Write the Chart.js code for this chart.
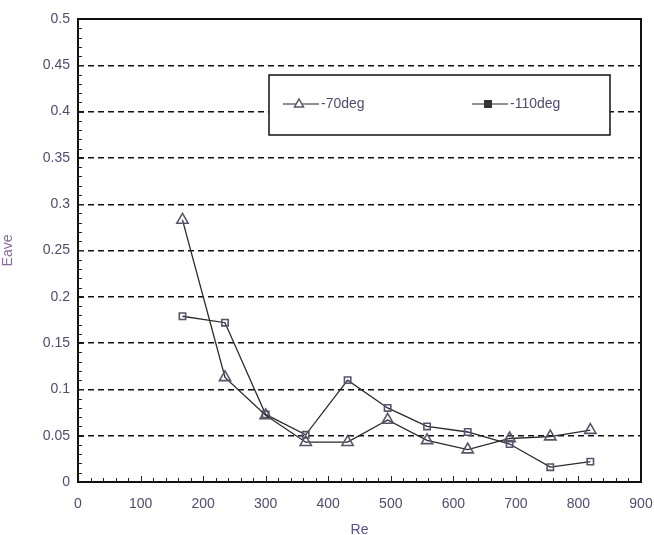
<!DOCTYPE html>
<html>
<head>
<meta charset="utf-8">
<script src="https://cdn.jsdelivr.net/npm/chart.js@4/dist/chart.umd.min.js"></script>
<style>
html,body{margin:0;padding:0;background:#fff;}
#wrap{width:654px;height:535px;position:relative;}
</style>
</head>
<body>
<div id="wrap"><canvas id="c" width="654" height="535"></canvas></div>
<script>
const re = [167, 235, 300, 364, 431, 495, 558, 623, 690, 755, 819];
const e70 = [0.283, 0.113, 0.072, 0.043, 0.043, 0.067, 0.045, 0.035, 0.047, 0.049, 0.056];
const e110 = [0.179, 0.172, 0.073, 0.051, 0.110, 0.080, 0.060, 0.054, 0.041, 0.016, 0.022];
const seriesLabels = ['-70deg', '-110deg'];
const xTitle = 'Re';
const yTitle = 'Eave';

const tickColor = '#4d4d70';
const font = {family: 'Liberation Sans, Arial, sans-serif', size: 14};

const frame = {
  id: 'frame',
  afterDatasetsDraw(chart) {
    const {ctx, chartArea: a, scales} = chart;
    ctx.save();
    ctx.strokeStyle = '#222';
    ctx.lineWidth = 1;
    ctx.beginPath();
    for (let v = 0; v <= 0.5001; v += 0.01) {
      const y = Math.round(scales.y.getPixelForValue(v)) + 0.5;
      const len = (Math.round(v * 100) % 5 === 0) ? 6 : 4;
      ctx.moveTo(a.left, y); ctx.lineTo(a.left + len, y);
    }
    for (let v = 0; v <= 900; v += 20) {
      const x = Math.round(scales.x.getPixelForValue(v)) + 0.5;
      const len = (v % 100 === 0) ? 6 : 4;
      ctx.moveTo(x, a.bottom); ctx.lineTo(x, a.bottom - len);
    }
    ctx.stroke();
    ctx.lineWidth = 2;
    ctx.strokeStyle = '#111';
    ctx.strokeRect(a.left, a.top, a.right - a.left, a.bottom - a.top);
    ctx.restore();
  }
};

const legendBox = {
  id: 'legendBox',
  afterDraw(chart) {
    const {ctx, chartArea: a} = chart;
    const bx = a.left + 191, by = a.top + 56, bw = 341, bh = 60;
    ctx.save();
    ctx.fillStyle = '#fff';
    ctx.fillRect(bx, by, bw, bh);
    ctx.lineWidth = 1.5;
    ctx.strokeStyle = '#111';
    ctx.strokeRect(bx, by, bw, bh);
    const cy = by + 29;
    const items = [{x: bx + 14}, {x: bx + 203}];
    chart.data.datasets.forEach((ds, i) => {
      const x0 = items[i].x;
      ctx.strokeStyle = '#222';
      ctx.lineWidth = 1.2;
      ctx.beginPath(); ctx.moveTo(x0, cy); ctx.lineTo(x0 + 36, cy); ctx.stroke();
      const mx = x0 + 16;
      ctx.strokeStyle = ds.pointBorderColor;
      ctx.lineWidth = 1.5;
      if (ds.pointStyle === 'triangle') {
        ctx.fillStyle = '#fff';
        ctx.beginPath();
        ctx.moveTo(mx, cy - 5); ctx.lineTo(mx + 4.5, cy + 3); ctx.lineTo(mx - 4.5, cy + 3); ctx.closePath();
        ctx.fill(); ctx.stroke();
      } else {
        ctx.fillStyle = '#333';
        ctx.fillRect(mx - 4, cy - 4, 8, 8);
      }
      ctx.fillStyle = tickColor;
      ctx.font = '14px Liberation Sans, Arial, sans-serif';
      ctx.textBaseline = 'middle';
      ctx.textAlign = 'left';
      ctx.fillText(ds.label, x0 + 38, cy);
    });
    ctx.restore();
  }
};

new Chart(document.getElementById('c'), {
  type: 'line',
  data: {
    datasets: [
      {
        label: seriesLabels[0],
        data: re.map((x, i) => ({x, y: e70[i]})),
        borderColor: '#2a2a2a',
        borderWidth: 1.3,
        pointStyle: 'triangle',
        pointRadius: 6.5,
        pointBorderWidth: 1.6,
        pointBorderColor: '#55556a',
        pointBackgroundColor: 'rgba(255,255,255,0)',
        tension: 0
      },
      {
        label: seriesLabels[1],
        data: re.map((x, i) => ({x, y: e110[i]})),
        borderColor: '#2a2a2a',
        borderWidth: 1.3,
        pointStyle: 'rect',
        pointRadius: 4.5,
        pointBorderWidth: 1.6,
        pointBorderColor: '#55556e',
        pointBackgroundColor: 'rgba(255,255,255,0)',
        tension: 0
      }
    ]
  },
  options: {
    responsive: false,
    animation: false,
    layout: {padding: {left: 0, right: 0, top: 19, bottom: 0}},
    plugins: {legend: {display: false}, tooltip: {enabled: false}},
    scales: {
      x: {
        type: 'linear',
        min: 0, max: 900,
        ticks: {stepSize: 100, color: tickColor, font: font, padding: 14, maxRotation: 0},
        grid: {display: false, drawTicks: false},
        border: {display: false},
        title: {display: true, text: xTitle, color: '#5a4f88', font: font, padding: {top: 0, bottom: -4}},
        afterFit(s) { s.height = 53; s.paddingRight = 13; s.paddingLeft = 0; }
      },
      y: {
        type: 'linear',
        min: 0, max: 0.5,
        ticks: {stepSize: 0.05, color: tickColor, font: font, padding: 8,
          callback: v => String(Math.round(v * 100) / 100)},
        grid: {
          drawTicks: false,
          color: ctx => (ctx.tick && (ctx.tick.value <= 0.0001 || ctx.tick.value >= 0.4999)) ? 'rgba(0,0,0,0)' : '#111',
          lineWidth: 1.4
        },
        border: {display: false, dash: [6, 4]},
        title: {display: true, text: yTitle, color: '#8a6a9a', font: font, padding: {top: 0, bottom: 4}},
        afterFit(s) { s.width = 78; }
      }
    }
  },
  plugins: [frame, legendBox]
});
</script>
</body>
</html>
